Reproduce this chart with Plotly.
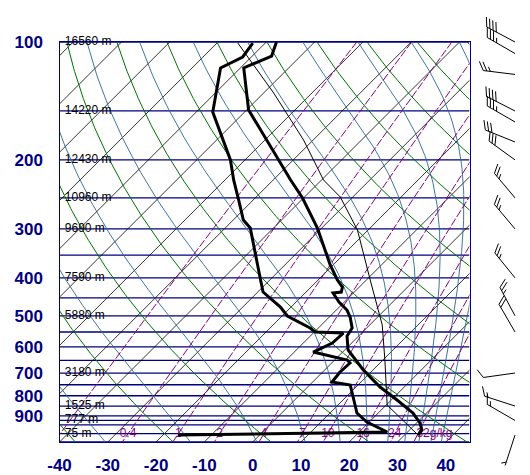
import numpy as np
import plotly.graph_objects as go

# ---- sounding (pressure hPa, deg C) ----
temp_p = [100, 108.6, 116.5, 149.1, 225, 250.2, 298.5, 370.9, 405.2, 422.3, 434.8,
          437.4, 461.2, 483.4, 503.6, 537.3, 563.2, 611.4, 687.7, 760, 820.3,
          885.7, 938.9, 979, 1007.7]
temp_c = [-77.9, -76.0, -79.3, -69.6, -46.4, -40.2, -30.9, -20.6, -16.0, -13.5, -12.7,
          -14.2, -11.1, -7.8, -5.7, -3.0, -2.4, 0.7, 8.0, 15.0, 21.2,
          27.2, 30.7, 32.6, 32.8]

dwpt_p = [100.6, 109.2, 116.5, 150.9, 200.1, 225, 253.2, 284.7, 298.5, 353.9, 400.5,
          434.8, 474.9, 500.7, 537.3, 550.1, 553.3, 586.8, 618.7, 648.4, 659.9,
          695.7, 737.9, 751, 806, 885.7, 933.5, 990.1, 1007.7]
dwpt_c = [-82.6, -81.8, -84.1, -76.6, -63.0, -58.2, -53.0, -47.9, -44.8, -37.7, -32.4,
          -28.9, -22.2, -18.9, -11.7, -9.8, -3.8, -4.0, -6.1, 2.6, 3.8,
          3.6, 4.0, 8.4, 11.5, 15.6, 19.5, 25.8, -16.9]

parcel_p = [1007.7, 845, 648.4, 527.8, 405.2, 302, 248.7, 225, 177.9, 135, 100.6]
parcel_c = [32.8, 20.2, 10.4, 2.6, -9.2, -22.2, -32.6, -39.6, -52.0, -67.9, -85.7]

height_p = [100, 150, 200, 250, 300, 400, 500, 700, 850, 925, 1000]
height_lbl = ['16560 m', '14220 m', '12430 m', '10960 m', '9690 m', '7590 m',
              '5880 m', '3180 m', '1525 m', '777 m', '75 m']

isobars = [100, 150, 200, 250, 300, 350, 400, 450, 500, 550, 600, 650, 700,
           750, 800, 850, 900, 925, 950, 1000, 1050]
isotherms = list(range(-130, 50, 10))
dry_theta = list(range(-60, 240, 20))          # potential temperature, deg C
moist_thetae = list(range(220, 460, 20))       # equivalent potential temperature, K
mix_ratio = [0.1, 0.4, 1, 2, 4, 7, 10, 16, 24, 32]
mix_lbl = ['', '0.4', '1', '2', '4', '7', '10', '16', '24', '32g/kg']

y_ticks = [100, 200, 300, 400, 500, 600, 700, 800, 900]
x_ticks = [-40, -30, -20, -10, 0, 10, 20, 30, 40]

# wind barbs: pressure, direction (deg), speed (kt)
barb_p = [100, 107, 121, 150, 160, 180, 200, 250, 300, 400, 500, 550, 700, 850, 925, 1008]
barb_dir = [298, 300, 277, 297, 300, 292, 306, 320, 320, 321, 332, 330, 262, 288, 300, 198]
barb_spd = [40, 35, 25, 40, 35, 30, 30, 25, 25, 25, 25, 20, 10, 15, 15, 5]

# ---- geometry (page pixels; the page body adds an 8px margin) ----
OFF = 8
PW, PH = 530, 475
W, H = PW - OFF, PH - OFF
LEFT, RIGHT, TOP, BOTTOM = 59.5, 469.5, 42, 442
X_MIN, X_MAX = -40.0, 44.9
P_TOP, P_BOT = 100.0, 1050.0
PX_DEC = (BOTTOM - TOP) / np.log10(P_BOT / P_TOP)
PX_DEG = (RIGHT - LEFT) / (X_MAX - X_MIN)
SKEW = PX_DEC / PX_DEG          # 45 degree isotherms

NAVY = '#000080'
FONT = 'Liberation Sans'


def skew(t, p):
    return np.asarray(t, float) + SKEW * np.log10(P_BOT / np.asarray(p, float))


def joined(curves):
    xs, ys = [], []
    for x, y in curves:
        xs += list(x) + [None]
        ys += list(y) + [None]
    return xs, ys


p_grid = np.logspace(np.log10(P_TOP), np.log10(P_BOT), 150)


def sat_vp(tc):
    return 6.112 * np.exp(17.67 * tc / (tc + 243.5))


def dtdp_moist(tk, p):
    es = sat_vp(tk - 273.15)
    rs = 0.622 * es / (p - es)
    num = 287.04 * tk + 2.501e6 * rs
    den = 1005.7 + 2.501e6 ** 2 * rs * 0.622 / (287.04 * tk * tk)
    return num / (p * den)


def thetae_1000(tw):
    tk = tw + 273.15
    es = sat_vp(tw)
    rs = 0.622 * es / (1000.0 - es)
    return tk * np.exp(2.501e6 * rs / (1005.7 * tk))


def tw_from_thetae(the):
    lo, hi = -80.0, 45.0
    for _ in range(60):
        mid = 0.5 * (lo + hi)
        if thetae_1000(mid) < the:
            lo = mid
        else:
            hi = mid
    return 0.5 * (lo + hi)


def moist_path(tw):
    out_p, out_t = [1000.0], [tw + 273.15]
    for h, stop in ((-5.0, P_TOP), (5.0, P_BOT)):
        p, t = 1000.0, tw + 273.15
        ps, ts = [], []
        while (p > stop) if h < 0 else (p < stop):
            k1 = dtdp_moist(t, p)
            k2 = dtdp_moist(t + h * k1 / 2, p + h / 2)
            k3 = dtdp_moist(t + h * k2 / 2, p + h / 2)
            k4 = dtdp_moist(t + h * k3, p + h)
            t += h * (k1 + 2 * k2 + 2 * k3 + k4) / 6
            p += h
            ps.append(p)
            ts.append(t)
        if h < 0:
            out_p = ps[::-1] + out_p
            out_t = ts[::-1] + out_t
        else:
            out_p += ps
            out_t += ts
    return np.array(out_p), np.array(out_t) - 273.15


def mix_td(w, p):
    e = w * np.asarray(p, float) / (622.0 + w)
    ln = np.log(e / 6.112)
    return 243.5 * ln / (17.67 - ln)


fig = go.Figure()

# isobars
xs, ys = joined([([X_MIN, X_MAX], [p, p]) for p in isobars])
fig.add_trace(go.Scatter(x=xs, y=ys, mode='lines', line=dict(color=NAVY, width=1.3),
                         hoverinfo='skip'))

# isotherms
xs, ys = joined([(skew([t, t], [P_TOP, P_BOT]), [P_TOP, P_BOT]) for t in isotherms])
fig.add_trace(go.Scatter(x=xs, y=ys, mode='lines', line=dict(color='black', width=0.8),
                         hoverinfo='skip'))

# dry adiabats
curves = []
for th in dry_theta:
    t = (th + 273.15) * (p_grid / 1000.0) ** 0.2857 - 273.15
    curves.append((skew(t, p_grid), p_grid))
xs, ys = joined(curves)
fig.add_trace(go.Scatter(x=xs, y=ys, mode='lines', line=dict(color='#007000', width=1),
                         hoverinfo='skip'))

# moist adiabats
curves = []
for the in moist_thetae:
    pp, tt = moist_path(tw_from_thetae(the))
    curves.append((skew(tt, pp), pp))
xs, ys = joined(curves)
fig.add_trace(go.Scatter(x=xs, y=ys, mode='lines', line=dict(color='#2a6496', width=0.9),
                         hoverinfo='skip'))

# mixing ratio lines
xs, ys = joined([(skew(mix_td(w, p_grid), p_grid), p_grid) for w in mix_ratio])
fig.add_trace(go.Scatter(x=xs, y=ys, mode='lines',
                         line=dict(color='#800080', width=1, dash='8px,2px'),
                         hoverinfo='skip'))

# mixing ratio labels at 1000 hPa
lbl_x = [float(skew(mix_td(w, 1000.0), 1000.0)) for w in mix_ratio]
fig.add_trace(go.Scatter(x=lbl_x[1:-1], y=[1000] * (len(mix_ratio) - 2), mode='text',
                         text=mix_lbl[1:-1], textposition='middle center',
                         textfont=dict(family=FONT, size=12, color='#800080'),
                         cliponaxis=False, hoverinfo='skip'))
fig.add_trace(go.Scatter(x=[lbl_x[-1] - 0.3], y=[1000], mode='text', text=[mix_lbl[-1]],
                         textposition='middle right',
                         textfont=dict(family=FONT, size=12, color='#800080'),
                         cliponaxis=False, hoverinfo='skip'))

# height labels
fig.add_trace(go.Scatter(x=[X_MIN + 1.1] * len(height_p), y=height_p, mode='text',
                         text=height_lbl, textposition='middle right',
                         textfont=dict(family=FONT, size=12, color='black'),
                         cliponaxis=False, hoverinfo='skip'))

# parcel, dew point, temperature
fig.add_trace(go.Scatter(x=skew(parcel_c, parcel_p), y=parcel_p, mode='lines',
                         line=dict(color='black', width=1), hoverinfo='skip'))
fig.add_trace(go.Scatter(x=skew(dwpt_c, dwpt_p), y=dwpt_p, mode='lines',
                         line=dict(color='black', width=3), name='Td'))
fig.add_trace(go.Scatter(x=skew(temp_c, temp_p), y=temp_p, mode='lines',
                         line=dict(color='black', width=3), name='T'))


# wind barbs on their own axes (page-pixel x, pressure y)
def barb(p, d, s, sx=515.0, length=32.0, gap=3.6, flen=10.0):
    th = np.radians(d)
    ux, uy = np.sin(th), np.cos(th)
    a = np.radians(60)
    fx, fy = ux * np.cos(a) + uy * np.sin(a), -ux * np.sin(a) + uy * np.cos(a)

    def pt(dx, dy):
        return sx + dx, p * 10 ** (-dy / PX_DEC)

    segs = [(pt(0, 0), pt(length * ux, length * uy))]
    s = int(round(s / 5.0)) * 5
    n10, n5 = s // 10, (s % 10) // 5
    k = 0 if n10 else 1
    for i in range(n10 + n5):
        bx, by = (length - (k + i) * gap) * ux, (length - (k + i) * gap) * uy
        fl = flen if i < n10 else flen / 2
        segs.append((pt(bx, by), pt(bx + fl * fx, by + fl * fy)))
    xs, ys = [], []
    for (x0, y0), (x1, y1) in segs:
        xs += [x0, x1, None]
        ys += [y0, y1, None]
    return xs, ys


bx, by = [], []
for p, d, s in zip(barb_p, barb_dir, barb_spd):
    x, y = barb(p, d, s)
    bx += x
    by += y
fig.add_trace(go.Scatter(x=bx, y=by, xaxis='x2', yaxis='y2', mode='lines',
                         line=dict(color='black', width=1), hoverinfo='skip'))

tickfont = dict(family=FONT, size=17, color=NAVY, weight='bold')
fig.update_layout(
    width=W, height=H,
    margin=dict(l=0, r=0, t=0, b=0),
    template='none',
    paper_bgcolor='white', plot_bgcolor='white',
    showlegend=False,
    xaxis=dict(domain=[(LEFT - OFF) / W, (RIGHT - OFF) / W], range=[X_MIN, X_MAX],
               anchor='y', tickvals=x_ticks, ticktext=[str(v) for v in x_ticks],
               tickfont=tickfont, ticks='', ticklabelstandoff=7,
               showgrid=False, zeroline=False,
               showline=True, linecolor=NAVY, linewidth=1.3, mirror=True),
    yaxis=dict(domain=[(PH - BOTTOM) / H, (PH - TOP) / H], type='log',
               range=[np.log10(P_BOT), np.log10(P_TOP)], anchor='x',
               tickvals=y_ticks, ticktext=[str(v) for v in y_ticks],
               tickfont=tickfont, ticks='', ticklabelstandoff=12,
               showgrid=False, zeroline=False,
               showline=True, linecolor=NAVY, linewidth=1.3, mirror=True),
    xaxis2=dict(domain=[(RIGHT - OFF) / W, 1], range=[RIGHT, PW], anchor='y2',
                visible=False),
    yaxis2=dict(domain=[0, 1], type='log', anchor='x2', visible=False,
                range=[np.log10(P_BOT) + (PH - BOTTOM) / PX_DEC,
                       np.log10(P_TOP) - (TOP - OFF) / PX_DEC]),
)

fig.write_html("out.html")
